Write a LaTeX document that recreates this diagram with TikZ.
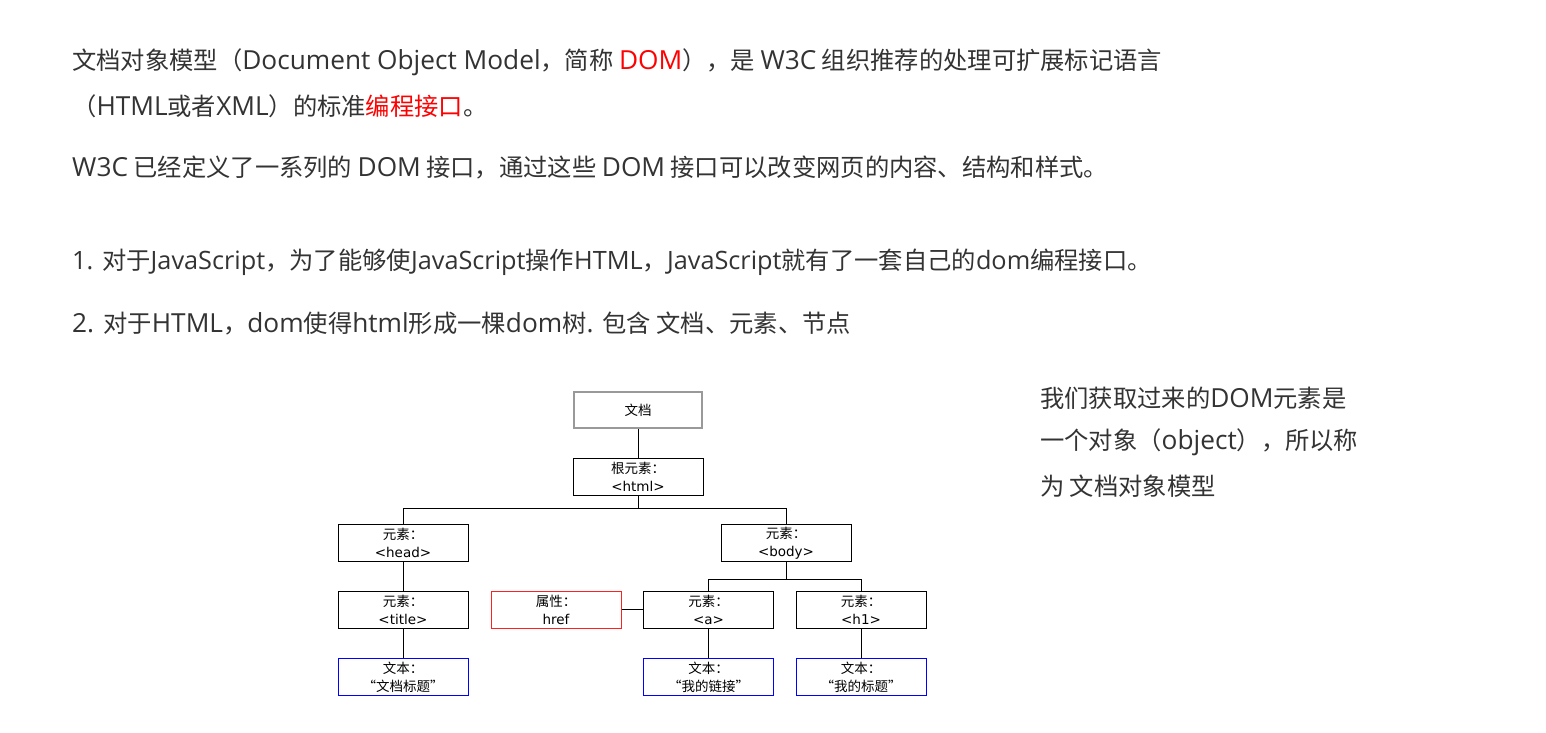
\documentclass[tikz,border=0pt]{standalone}
\usepackage{fontspec}
\setmainfont{Noto Sans CJK SC}
\newfontfamily\lt{Open Sans}[Scale=1.08]
\newfontfamily\ltn{Open Sans}[Scale=1.04]
\newfontfamily\tl{DejaVu Sans}
\newfontfamily\cjkfw{Noto Sans CJK SC}[CharacterWidth=Full]
\definecolor{txt}{HTML}{333333}
\definecolor{hl}{HTML}{FF0000}
\definecolor{bluebox}{HTML}{0000FF}
\definecolor{redbox}{HTML}{FF2020}
\definecolor{graybox}{HTML}{999999}
\tikzset{
  para/.style={anchor=west, inner sep=0pt, text=txt, font=\fontsize{24.3}{28}\selectfont},
  treebox/.style={draw=black, line width=1pt, minimum width=130pt, minimum height=37pt, inner sep=0pt, align=center, font=\fontsize{13.5}{18}\selectfont, text=black},
  docbox/.style={treebox, draw=graybox, line width=2pt, minimum width=128pt, minimum height=36pt},
  attrbox/.style={treebox, draw=redbox},
  textbox/.style={treebox, draw=bluebox},
  conn/.style={draw=black, line width=1pt}
}
\begin{document}
\begin{tikzpicture}[x=1pt,y=-1pt]
\useasboundingbox[fill=white] (0,0) rectangle (1546,732);
% paragraphs
\node[para] (p1) at (72,62) {文档对象模型（{\lt Document Object Model}，简称 \textcolor{hl}{\lt DOM}），是 {\lt W3C} 组织推荐的处理可扩展标记语言};
\node[para] (p2) at (72,106) {（{\lt HTML}或者{\lt XML}）的标准\textcolor{hl}{编程接口}。};
\node[para] (p3) at (72,167) {{\lt W3C} 已经定义了一系列的 {\lt DOM} 接口，通过这些 {\lt DOM} 接口可以改变网页的内容、结构和样式。};
\node[para] (p4) at (72,262) {{\ltn 1. }对于{\ltn JavaScript}，为了能够使{\ltn JavaScript}操作{\ltn HTML}，{\ltn JavaScript}就有了一套自己的{\ltn dom}编程接口。};
\node[para] (p5) at (72,323) {{\lt 2. }对于{\lt HTML}，{\lt dom}使得{\lt html}形成一棵{\lt dom}树{\lt . }包含 文档、元素、节点};
\node[para] (r1) at (1040,398) {我们获取过来的{\lt DOM}元素是};
\node[para] (r2) at (1040,442) {一个对象（{\lt object}），所以称};
\node[para] (r3) at (1040,486) {为 文档对象模型};
% tree
\node[docbox] (doc) at (638,410) {文档};
\node[treebox] (html) at (638,476.5) {根元素：\\{\tl <html>}};
\node[treebox] (head) at (403,543) {元素：\\{\tl <head>}};
\node[treebox] (body) at (786,543) {元素：\\{\tl <body>}};
\node[treebox] (title) at (403,609.5) {元素：\\{\tl <title>}};
\node[attrbox] (href) at (556,609.5) {属性：\\{\tl href}};
\node[treebox] (a) at (708.5,609.5) {元素：\\{\tl <a>}};
\node[treebox] (h1) at (861,609.5) {元素：\\{\tl <h1>}};
\node[textbox] (t1) at (403,677) {文本：\\{\cjkfw “}文档标题{\cjkfw ”}};
\node[textbox] (t2) at (708.5,677) {文本：\\{\cjkfw “}我的链接{\cjkfw ”}};
\node[textbox] (t3) at (861,677) {文本：\\{\cjkfw “}我的标题{\cjkfw ”}};
% connectors
\draw[conn] (doc) -- (html);
\draw[conn] (html.south) -- ++(0,13) coordinate (hb);
\draw[conn] (head.north) |- (hb) -| (body.north);
\draw[conn] (body.south) -- ++(0,17) coordinate (bb);
\draw[conn] (a.north) |- (bb) -| (h1.north);
\draw[conn] (href) -- (a);
\draw[conn] (head) -- (title);
\draw[conn] (title) -- (t1);
\draw[conn] (a) -- (t2);
\draw[conn] (h1) -- (t3);
\end{tikzpicture}
\end{document}
